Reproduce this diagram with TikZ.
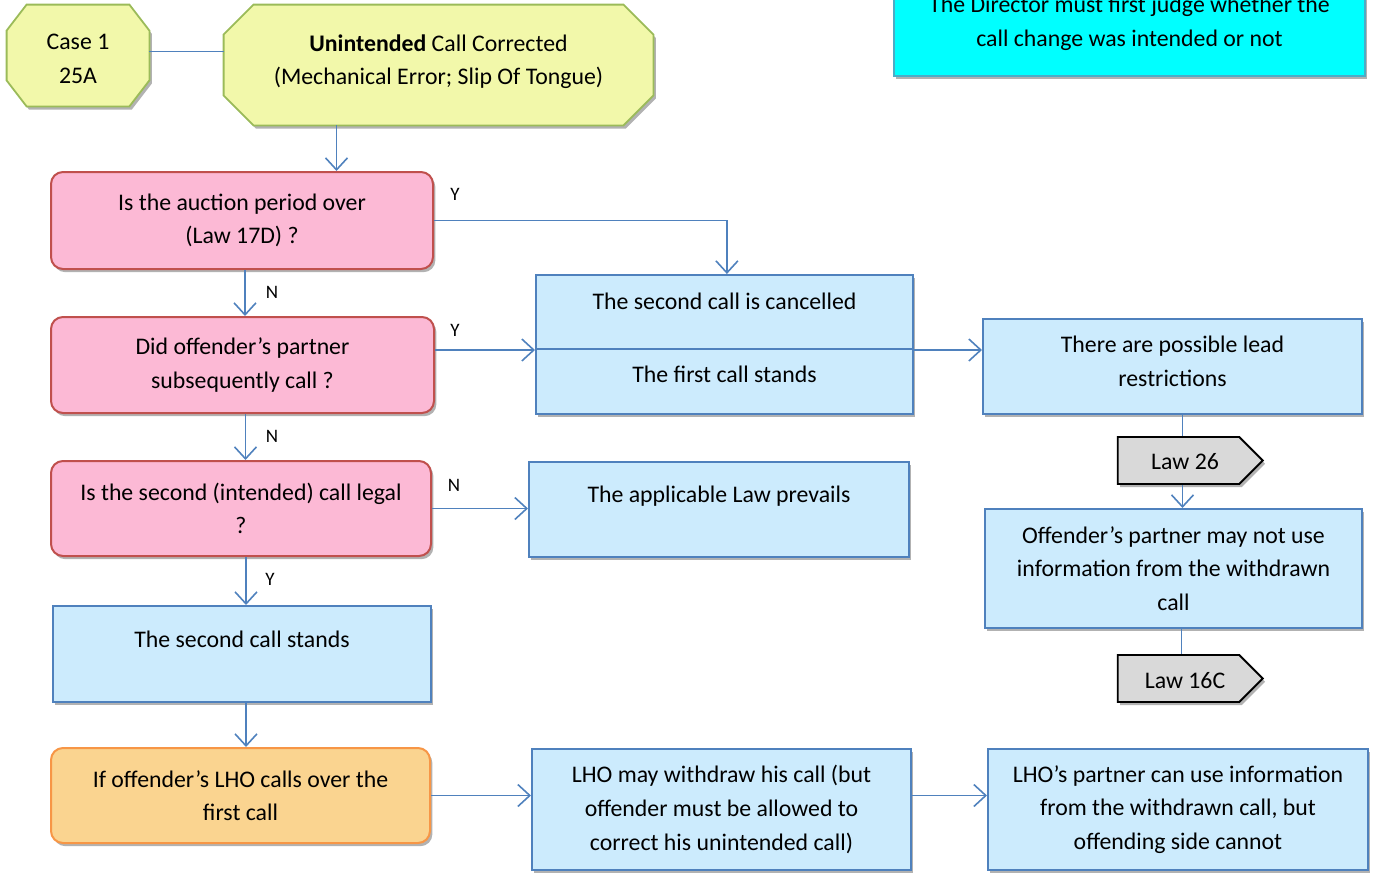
\documentclass[tikz,border=0pt]{standalone}
\usepackage{fontspec}
\setmainfont{Carlito}
\usetikzlibrary{shapes.misc,shapes.symbols,shadows,arrows.meta}
\definecolor{pinkfill}{RGB}{252,185,213}
\definecolor{pinkline}{RGB}{192,80,77}
\definecolor{bluefill}{RGB}{204,235,253}
\definecolor{blueline}{RGB}{79,129,189}
\definecolor{greenfill}{RGB}{242,248,170}
\definecolor{greenline}{RGB}{155,187,89}
\definecolor{orangefill}{RGB}{250,212,144}
\definecolor{orangeline}{RGB}{247,150,70}
\definecolor{cyanfill}{RGB}{0,255,255}
\definecolor{cyanline}{RGB}{75,172,198}
\definecolor{grayfill}{RGB}{217,217,217}
\begin{document}
\begin{tikzpicture}[x=0.5pt,y=-0.5pt,
  font=\fontsize{11.9pt}{16.8pt}\selectfont,
  shad/.style={drop shadow={shadow xshift=1.2pt,shadow yshift=-1.6pt,opacity=0.3,fill=black}},
  sz/.style 2 args={minimum width={#1*0.5pt},minimum height={#2*0.5pt}},
  box/.style={draw,line width=1pt,inner sep=0pt,align=center,shad},
  pinkbox/.style={box,rectangle,rounded corners=6pt,fill=pinkfill,draw=pinkline},
  orangebox/.style={box,rectangle,rounded corners=6pt,fill=orangefill,draw=orangeline},
  bluebox/.style={box,rectangle,fill=bluefill,draw=blueline},
  cyanbox/.style={box,rectangle,fill=cyanfill,draw=cyanline},
  octarea/.style={rectangle,inner sep=0pt,align=center},
  octline/.style={fill=greenfill,draw=greenline,line width=0.9pt,shad},
  lawbox/.style={box,signal,signal to=east,signal pointer angle=90,fill=grayfill,draw=black,line width=0.9pt},
  txt/.style={align=center,inner sep=0pt},
  conn/.style={draw=blueline,line width=0.8pt},
  arr/.style={conn,-{Straight Barb[length=6pt,width=11pt]}},
  lbl/.style={font=\fontsize{9.5pt}{11pt}\selectfont,inner sep=0pt}
]
\useasboundingbox (0,0) rectangle (1378,874);

% top: octagons
\node[octarea,sz={142}{101}] (case) at (78,55.5) {};
\draw[octline] ([xshift=10pt]case.north west) -- ([xshift=-10pt]case.north east)
  -- ([yshift=-13pt]case.north east) -- ([yshift=13pt]case.south east)
  -- ([xshift=-10pt]case.south east) -- ([xshift=10pt]case.south west)
  -- ([yshift=13pt]case.south west) -- ([yshift=-13pt]case.north west) -- cycle;
\node[txt] (caset) at (78,59) {Case 1\\25A};
\node[octarea,sz={429}{120}] (unint) at (438.5,65) {};
\draw[octline] ([xshift=15pt]unint.north west) -- ([xshift=-15pt]unint.north east)
  -- ([yshift=-15pt]unint.north east) -- ([yshift=15pt]unint.south east)
  -- ([xshift=-15pt]unint.south east) -- ([xshift=15pt]unint.south west)
  -- ([yshift=15pt]unint.south west) -- ([yshift=-15pt]unint.north west) -- cycle;
\node[txt] (unintt) at (438.5,61.5) {\textbf{Unintended} Call Corrected\\(Mechanical Error; Slip Of Tongue)};
\node[cyanbox,sz={471}{106}] (dir) at (1129.5,23) {The Director must first judge whether the\\call change was intended or not};

% left column
\node[pinkbox,sz={382}{97}] (q1) at (242,220.5) {Is the auction period over\\(Law 17D) ?};
\node[pinkbox,sz={383}{96}] (q2) at (242.5,365) {Did offender’s partner\\subsequently call ?};
\node[pinkbox,sz={380}{95}] (q3) at (241,508.5) {Is the second (intended) call legal\\?};
\node[bluebox,sz={378}{96}] (sec) at (242,654) {};
\node[txt] (sect) at (242,639) {The second call stands};
\node[orangebox,sz={379}{95}] (lho) at (240.5,795.5) {If offender’s LHO calls over the\\first call};

% middle column
\node[bluebox,sz={377}{74}] (cancel) at (724.5,312) {};
\node[txt] (cancelt) at (724.5,301) {The second call is cancelled};
\node[bluebox,sz={377}{65}] (first) at (724.5,381.5) {};
\node[txt] (firstt) at (724.5,374) {The first call stands};
\node[bluebox,sz={380}{95}] (applic) at (719,509.5) {};
\node[txt] (applict) at (719,496) {The applicable Law prevails};
\node[bluebox,sz={379}{121}] (lhomay) at (721.5,809.5) {LHO may withdraw his call (but\\offender must be allowed to\\correct his unintended call)};

% right column
\node[bluebox,sz={379}{95}] (lead) at (1172.5,366.5) {};
\node[txt] (leadt) at (1172.5,361.5) {There are possible lead\\restrictions};
\node[lawbox,sz={145}{47}] (law26) at (1178.5,460.5) {};
\node[txt] (law26t) at (1185,462) {Law 26};
\node[bluebox,sz={377}{119}] (pno) at (1173.5,568.5) {Offender’s partner may not use\\information from the withdrawn\\call};
\node[lawbox,sz={145}{47}] (law16) at (1178.5,678.5) {};
\node[txt] (law16t) at (1185,681) {Law 16C};
\node[bluebox,sz={380}{121}] (lhop) at (1178,809.5) {LHO’s partner can use information\\from the withdrawn call, but\\offending side cannot};

% connectors
\draw[conn] ([yshift=2pt]case.east) -- ([yshift=2pt]case.east -| unint.west);
\draw[arr] ([xshift=-51pt]unint.south) -- ([xshift=-51pt]unint.south |- q1.north);
\draw[arr] (q1.east) -- ([xshift=1.2pt]cancel.north |- q1.east) -- ([xshift=1.2pt]cancel.north);
\node[lbl] (y1) at (455,194) {Y};
\draw[arr] ([xshift=1.5pt]q1.south) -- ([xshift=1.5pt]q1.south |- q2.north);
\node[lbl] (n1) at (272,292) {N};
\draw[arr] (q2.east |- cancel.south west) -- (cancel.south west);
\node[lbl] (y2) at (455,330) {Y};
\draw[arr] (cancel.south east) -- (cancel.south east -| lead.west);
\draw[arr] ([xshift=1.5pt]q2.south) -- ([xshift=1.5pt]q2.south |- q3.north);
\node[lbl] (n2) at (272,436) {N};
\draw[arr] (q3.east) -- (q3.east -| applic.west);
\node[lbl] (n3) at (454,485) {N};
\draw[arr] ([xshift=2.5pt]q3.south) -- ([xshift=2.5pt]q3.south |- sec.north);
\node[lbl] (y3) at (270,579) {Y};
\draw[arr] ([xshift=2pt]sec.south) -- ([xshift=2pt]sec.south |- lho.north);
\draw[arr] (lho.east) -- (lho.east -| lhomay.west);
\draw[arr] (lho.east -| lhomay.east) -- (lho.east -| lhop.west);
\draw[conn] ([xshift=2pt]law26.north |- lead.south) -- ([xshift=2pt]law26.north);
\draw[arr] ([xshift=2pt]law26.south) -- ([xshift=2pt]law26.south |- pno.north);
\draw[conn] ([xshift=1.5pt]law16.north |- pno.south) -- ([xshift=1.5pt]law16.north);
\end{tikzpicture}
\end{document}
